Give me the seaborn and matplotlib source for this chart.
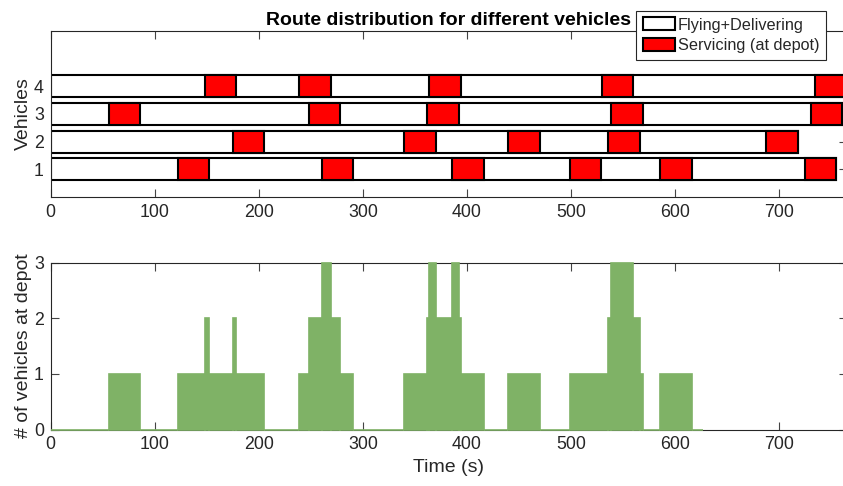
import matplotlib
matplotlib.use("Agg")
import matplotlib.pyplot as plt
from matplotlib.patches import Patch
import numpy as np
import pandas as pd
import seaborn as sns

# ---------------- data ----------------
vehicles = [1, 2, 3, 4]
route_end = [755, 718, 761, 765]
service_start = [
    [122, 261, 386, 499, 586, 725],
    [175, 340, 440, 536, 688],
    [56, 248, 362, 539, 731],
    [148, 239, 364, 529.5, 735],
]
service_end = [
    [152, 291, 416, 529, 616, 755],
    [205, 370, 470, 566, 718],
    [86, 278, 392, 569, 761],
    [178, 269, 394, 559.5, 765],
]

# number of vehicles at depot (step segments)
depot_edges = [0, 56, 86, 122, 148, 152, 175, 178, 205, 239, 248, 261, 269, 278,
               291, 340, 362, 364, 370, 386, 392, 394, 416, 440, 470, 499, 536,
               539, 560, 566, 569, 586, 616, 627]
depot_count = [0, 1, 0, 1, 2, 1, 2, 1, 0, 1, 2, 3, 2, 1,
               0, 1, 2, 3, 2, 3, 2, 1, 0, 1, 0, 1, 2,
               3, 2, 1, 0, 1, 0]

x_ticks = [0, 100, 200, 300, 400, 500, 600, 700]
legend_labels = ["Flying+Delivering", "Servicing (at depot)"]

# ---------------- style ----------------
sns.set_theme(style="ticks")
plt.rcParams["font.family"] = ["Liberation Sans", "DejaVu Sans"]
dark = "#262626"
green = "#7fb266"

W, H = 843, 486
fig = plt.figure(figsize=(W / 100, H / 100), dpi=100)
left_px, right_px = 50.7, 846.6
ax1 = fig.add_axes([left_px / W, 1 - 197 / H, (right_px - left_px) / W, 166 / H])
ax2 = fig.add_axes([left_px / W, 1 - 429.5 / H, (right_px - left_px) / W, 167 / H])

# ---------------- top panel ----------------
for v, end, ss, se in zip(vehicles, route_end, service_start, service_end):
    ax1.barh(v, end, left=0, height=0.8, color="white", edgecolor="black",
             linewidth=1.5, zorder=2)
    for s, e in zip(ss, se):
        ax1.barh(v, e - s, left=s, height=0.8, color="red", edgecolor="black",
                 linewidth=1.5, zorder=3)

ax1.set_xlim(0, 765)
ax1.set_ylim(0, 6)
ax1.set_yticks(vehicles)
ax1.set_xticks(x_ticks)
ax1.set_ylabel("Vehicles", fontsize=14, color=dark)
ax1.yaxis.set_label_coords(-0.024, 0.5)
ax1.set_title("Route distribution for different vehicles", fontsize=14,
              fontweight="bold", color="black", pad=4)

handles = [Patch(facecolor="white", edgecolor="black", linewidth=1.5),
           Patch(facecolor="red", edgecolor="black", linewidth=1.5)]
leg = ax1.legend(handles, legend_labels, loc="upper right",
                 bbox_to_anchor=(0.974, 1.1205), borderaxespad=0,
                 fontsize=11.7, frameon=True, fancybox=False, framealpha=1,
                 edgecolor=dark, handlelength=1.95, handleheight=0.85,
                 handletextpad=0.2, labelspacing=0.35, borderpad=0.4)
leg.get_frame().set_linewidth(0.8)
leg.set_zorder(10)

# ---------------- bottom panel ----------------
edges = [float(e) for e in depot_edges]
mids = [(a + b) / 2 for a, b in zip(edges[:-1], edges[1:])]
depot_df = pd.DataFrame({"t": mids, "n": [float(c) for c in depot_count]})
sns.histplot(data=depot_df, x="t", weights="n", bins=edges, ax=ax2,
             stat="count", element="bars", fill=True, color=green, alpha=1,
             edgecolor=green, linewidth=1.2)
for p in ax2.patches:
    p.set_zorder(6)
    p.set_clip_on(False)
ax2.set_xlim(0, 765)
ax2.set_ylim(0, 3)
ax2.set_yticks([0, 1, 2, 3])
ax2.set_xticks(x_ticks)
ax2.set_ylabel("# of vehicles at depot", fontsize=14, color=dark)
ax2.yaxis.set_label_coords(-0.024, 0.5)
ax2.set_xlabel("Time (s)", fontsize=14, color=dark, labelpad=4)

for ax in (ax1, ax2):
    for sp in ax.spines.values():
        sp.set_visible(True)
        sp.set_color(dark)
        sp.set_linewidth(0.8)
        sp.set_zorder(5)
    ax.tick_params(direction="in", top=True, right=True, length=5.8,
                   width=0.8, color="#444444", labelsize=12.8,
                   labelcolor=dark, pad=5)
    ax.grid(False)

fig.savefig("out.png", dpi=100)
